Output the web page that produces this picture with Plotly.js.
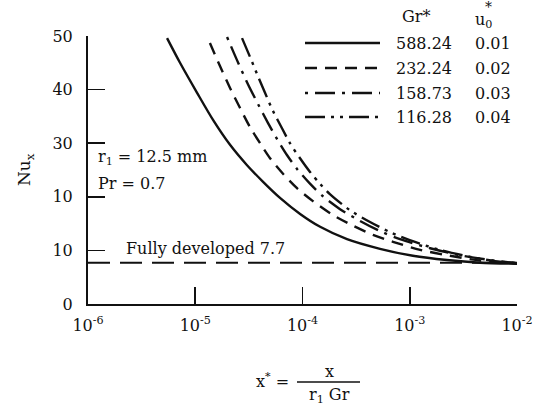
<!DOCTYPE html>
<html>
<head>
<meta charset="utf-8">
<script src="https://cdn.plot.ly/plotly-3.0.1.min.js"></script>
<style>html,body{margin:0;padding:0;background:#fff;}#chart{width:537px;height:414px;}</style>
</head>
<body>
<div id="chart"></div>
<script>
// ---- data ----
const grValues = ["588.24", "232.24", "158.73", "116.28"];
const u0Values = ["0.01", "0.02", "0.03", "0.04"];

const solidX = [5.46e-6, 7.21e-6, 1.04e-5, 1.47e-5, 2.11e-5, 3.04e-5, 4.29e-5, 6.17e-5, 9.5e-5, 1.46e-4, 2.6e-4, 5.28e-4, 1.07e-3, 2.22e-3, 4.52e-3, 1e-2];
const solidY = [49.6, 45.0, 39.4, 34.3, 29.7, 25.9, 22.8, 19.8, 16.8, 14.4, 12.1, 10.3, 9.0, 8.2, 7.7, 7.5];

const dashedX = [1.37e-5, 1.70e-5, 2.11e-5, 2.61e-5, 3.24e-5, 4.02e-5, 4.98e-5, 6.58e-5, 8.89e-5, 1.25e-4, 1.92e-4, 2.96e-4, 4.54e-4, 6.98e-4, 1.25e-3, 2.37e-3, 4.52e-3, 1e-2];
const dashedY = [48.7, 44.4, 40.3, 36.6, 33.0, 30.0, 27.2, 24.3, 21.6, 19.2, 16.6, 14.6, 12.9, 11.6, 10.1, 9.0, 8.1, 7.6];

const dashDotX = [1.98e-5, 2.45e-5, 3.10e-5, 3.85e-5, 4.76e-5, 5.78e-5, 7.16e-5, 8.89e-5, 1.18e-4, 1.55e-4, 2.24e-4, 3.44e-4, 5.28e-4, 8.11e-4, 1.55e-3, 2.94e-3, 5.6e-3, 1e-2];
const dashDotY = [49.8, 45.5, 41.0, 37.3, 33.8, 30.8, 27.8, 25.2, 22.4, 20.1, 17.7, 15.5, 13.6, 12.1, 10.4, 9.1, 8.2, 7.6];

const dashDotDotX = [2.73e-5, 3.24e-5, 3.77e-5, 4.47e-5, 5.31e-5, 6.44e-5, 7.64e-5, 9.48e-5, 1.18e-4, 1.46e-4, 1.80e-4, 2.77e-4, 4.26e-4, 6.55e-4, 1.0e-3, 1.91e-3, 3.65e-3, 6.24e-3, 1e-2];
const dashDotDotY = [49.6, 46.1, 42.9, 39.4, 36.0, 32.8, 30.0, 27.2, 24.6, 22.4, 20.5, 17.5, 15.3, 13.4, 11.9, 10.1, 8.8, 8.0, 7.6];

const fullyDevX = [1e-6, 1e-2];
const fullyDevY = [7.7, 7.7];

const xTickVals = [1e-6, 1e-5, 1e-4, 1e-3, 1e-2];
const xTickText = ["10<sup>-6</sup>", "10<sup>-5</sup>", "10<sup>-4</sup>", "10<sup>-3</sup>", "10<sup>-2</sup>"];
const yTickVals = [0, 10, 20, 30, 40, 50];
const yTickText = ["0", "10", "10", "30", "40", "50"];

// ---- styles ----
const ink = "#111111";
const FONT = "DejaVu Serif, Liberation Serif, serif";
const FS = 16;
const dashes = ["solid", "12px,8px", "3px,7px,20px,7px", "20px,6px,3px,6px,3px,6px"];
const seriesX = [solidX, dashedX, dashDotX, dashDotDotX];
const seriesY = [solidY, dashedY, dashDotY, dashDotDotY];

const traces = seriesX.map((xs, i) => ({
  x: xs, y: seriesY[i], type: "scatter", mode: "lines",
  line: {color: ink, width: 2.4, dash: dashes[i], shape: "spline", smoothing: 0.8},
  showlegend: false, hoverinfo: "skip"
}));
traces.push({
  x: fullyDevX, y: fullyDevY, type: "scatter", mode: "lines",
  line: {color: ink, width: 1.8, dash: "22px,10px"},
  showlegend: false, hoverinfo: "skip"
});

// plot area in px: x 88..517, y 36..304
const L = 88, R = 517, T = 36, B = 304;
const px = v => (v - L) / (R - L);
const py = v => (B - v) / (B - T);
const txt = (x, y, text, anchor, size) => ({xref: "paper", yref: "paper", x: px(x), y: py(y), text: text,
  showarrow: false, xanchor: anchor || "center", yanchor: "middle",
  font: {family: FONT, size: size || FS, color: ink}});

const shapes = [];
const annotations = [];
const rowY = [43, 68, 93, 117];
rowY.forEach((ry, i) => {
  shapes.push({type: "line", xref: "paper", yref: "paper", x0: px(305), x1: px(380), y0: py(ry), y1: py(ry),
    line: {color: ink, width: 2.6, dash: dashes[i]}});
  annotations.push(txt(424, ry, grValues[i]));
  annotations.push(txt(493, ry, u0Values[i]));
});
annotations.push(txt(416, 16, "Gr*"));
annotations.push(txt(483, 21, "u<sub>0</sub>"));
annotations.push(txt(488, 7, "*", "center", 14));

annotations.push(txt(96, 157, "r<sub>1</sub> = 12.5 mm", "left"));
annotations.push(txt(96, 183, "Pr = 0.7", "left"));
annotations.push(txt(124, 248, "Fully developed 7.7", "left"));

// y axis title
annotations.push({xref: "paper", yref: "paper", x: px(25), y: py(170), text: "Nu<sub>x</sub>", showarrow: false,
  textangle: -90, xanchor: "center", yanchor: "middle", font: {family: FONT, size: 17, color: ink}});

// x axis title as a fraction
annotations.push(txt(291, 380, "x<sup>*</sup> =", "right"));
annotations.push(txt(329, 371, "x"));
annotations.push(txt(329, 396, "r<sub>1</sub> Gr"));
shapes.push({type: "line", xref: "paper", yref: "paper", x0: px(297), x1: px(360), y0: py(382), y1: py(382),
  line: {color: ink, width: 1.3}});

const layout = {
  width: 537, height: 414,
  margin: {l: L, r: 537 - R, t: T, b: 414 - B, pad: 0},
  paper_bgcolor: "#ffffff", plot_bgcolor: "#ffffff",
  font: {family: FONT, size: FS, color: ink},
  showlegend: false,
  xaxis: {
    type: "log", range: [-6, -2], tickvals: xTickVals, ticktext: xTickText,
    showgrid: false, zeroline: false, showline: true, linecolor: ink, linewidth: 2, mirror: false,
    ticks: "inside", ticklen: 17, tickwidth: 1.6, tickcolor: ink, ticklabelstandoff: 6,
    tickfont: {family: FONT, size: FS, color: ink}
  },
  yaxis: {
    range: [0, 50], tickvals: yTickVals, ticktext: yTickText,
    showgrid: false, zeroline: false, showline: true, linecolor: ink, linewidth: 2, mirror: false,
    ticks: "inside", ticklen: 17, tickwidth: 1.6, tickcolor: ink, ticklabelstandoff: 10,
    tickfont: {family: FONT, size: FS, color: ink}
  },
  shapes: shapes,
  annotations: annotations
};

Plotly.newPlot("chart", traces, layout, {staticPlot: true, displayModeBar: false});
</script>
</body>
</html>
